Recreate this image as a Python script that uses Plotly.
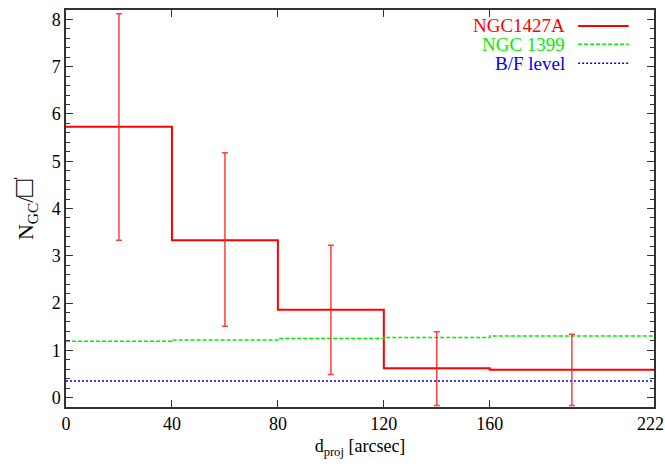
import plotly.graph_objects as go

# Data
bin_edges = [0, 40, 80, 120, 160, 222]
ngc1427a = [5.73, 3.33, 1.86, 0.62, 0.59]
err_x = [20, 60, 100, 140, 191]
err_hi = [8.12, 5.18, 3.22, 1.39, 1.34]
err_lo = [3.33, 1.51, 0.49, -0.17, -0.17]
ngc1399 = [1.19, 1.22, 1.25, 1.27, 1.30]
bf_level = 0.35
x_ticks = [0, 40, 80, 120, 160, 222]
x_ticklabels = ["0", "40", "80", "120", "160", ""]
last_tick_label = "222"

FONT = "Liberation Serif"
RED = "#ff0000"
GREEN = "#00ee00"
BLUE = "#0000ff"

fig = go.Figure()

# step histograms
fig.add_trace(go.Scatter(x=bin_edges, y=ngc1427a + [ngc1427a[-1]], mode="lines",
                         line=dict(shape="hv", color=RED, width=2), showlegend=False))
fig.add_trace(go.Scatter(x=bin_edges, y=ngc1399 + [ngc1399[-1]], mode="lines",
                         line=dict(shape="hv", color=GREEN, width=1.5, dash="4px,2px"), showlegend=False))
fig.add_trace(go.Scatter(x=[bin_edges[0], bin_edges[-1]], y=[bf_level, bf_level], mode="lines",
                         line=dict(color=BLUE, width=1.5, dash="2px,2px"), showlegend=False))

# error bars
mid = [(h + l) / 2 for h, l in zip(err_hi, err_lo)]
fig.add_trace(go.Scatter(
    x=err_x, y=mid, mode="markers", marker=dict(size=0.1, color="rgba(0,0,0,0)"),
    error_y=dict(type="data", symmetric=False,
                 array=[h - m for h, m in zip(err_hi, mid)],
                 arrayminus=[m - l for m, l in zip(mid, err_lo)],
                 color="rgba(255,30,30,0.85)", thickness=1.5, width=3),
    showlegend=False, hoverinfo="skip"))

# legend (gnuplot style: text then sample)
legend = [("NGC1427A", RED, "solid", 2), ("NGC 1399", GREEN, "4px,2px", 1.5),
          ("B/F level", BLUE, "2px,2px", 1.5)]
ys = [0.960, 0.914, 0.866]
for (name, col, dash, w), yy in zip(legend, ys):
    fig.add_annotation(xref="paper", yref="paper", x=0.852, y=yy, text=name,
                       showarrow=False, xanchor="right", yanchor="middle",
                       font=dict(family=FONT, size=19, color=col))
    fig.add_shape(type="line", xref="paper", yref="paper", x0=0.871, x1=0.957,
                  y0=yy, y1=yy, line=dict(color=col, width=w, dash=dash))

# last x tick label, nudged left so it stays inside the page (as in the reference)
fig.add_annotation(xref="x", yref="paper", x=x_ticks[-1], y=0, text=last_tick_label,
                   showarrow=False, xanchor="center", yanchor="middle", xshift=-4, yshift=-17,
                   font=dict(family=FONT, size=18, color="black"))

axis_common = dict(showline=True, linecolor="#333333", linewidth=1.5, mirror="ticks",
                   ticks="inside", tickcolor="#333333", tickwidth=1.2, ticklen=7,
                   showgrid=False, zeroline=False, automargin=False,
                   tickfont=dict(family=FONT, size=18, color="black"))

fig.update_xaxes(range=[0, 222], tickvals=x_ticks, ticktext=x_ticklabels,
                 title=dict(text="d<sub>proj</sub> [arcsec]", font=dict(family=FONT, size=18, color="black"),
                            standoff=6),
                 **axis_common)
fig.update_yaxes(range=[-0.2, 8.2], tickvals=list(range(0, 9)),
                 minor=dict(ticks="inside", dtick=0.2, tick0=0, ticklen=4, tickcolor="#333333", tickwidth=1),
                 title=dict(text="N<sub>GC</sub>/<span style='font-size:28px'>□</span><sup>'</sup>",
                            font=dict(family=FONT, size=22, color="black"),
                            standoff=12),
                 **axis_common)

fig.update_layout(width=665, height=466, margin=dict(l=66, r=11, t=10, b=59),
                  plot_bgcolor="white", paper_bgcolor="white",
                  font=dict(family=FONT, size=18, color="black"))

fig.write_html("out.html")
